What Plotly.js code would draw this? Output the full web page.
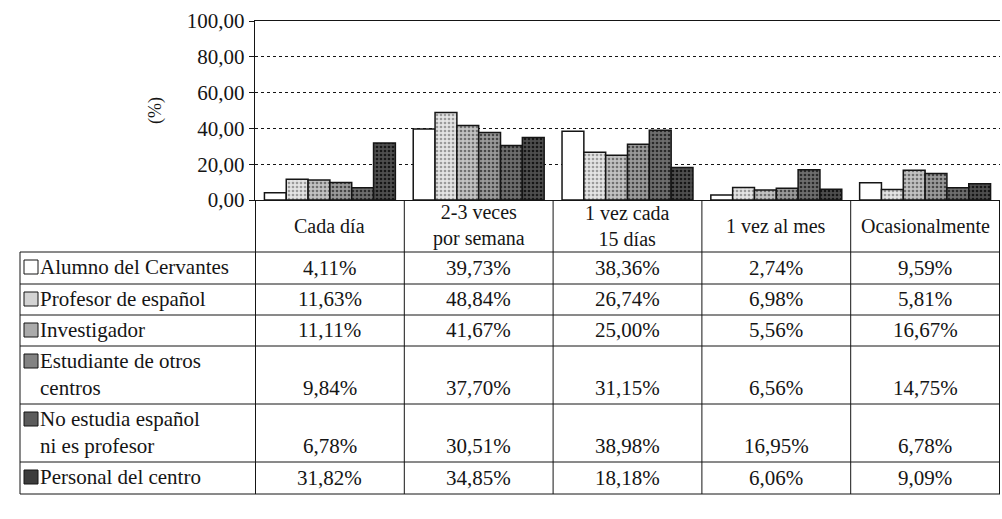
<!DOCTYPE html>
<html><head><meta charset="utf-8">
<script src="https://cdn.plot.ly/plotly-3.0.1.min.js"></script>
<style>body{margin:0;background:#fff}#chart{width:1002px;height:519px}</style>
</head><body><div id="chart"></div>
<script>
// ---- data ----
const categories = ['Cada día', '2-3 veces por semana', '1 vez cada 15 días', '1 vez al mes', 'Ocasionalmente'];
const headerLabels = ['Cada día', '2-3 veces<br>por semana', '1 vez cada<br>15 días', '1 vez al mes', 'Ocasionalmente'];
const seriesNames = ['Alumno del Cervantes', 'Profesor de español', 'Investigador', 'Estudiante de otros centros', 'No estudia español ni es profesor', 'Personal del centro'];
const seriesLabels = ['Alumno del Cervantes', 'Profesor de español', 'Investigador', 'Estudiante de otros<br>centros', 'No estudia español<br>ni es profesor', 'Personal del centro'];
const alumno = [4.11, 39.73, 38.36, 2.74, 9.59];
const profesor = [11.63, 48.84, 26.74, 6.98, 5.81];
const investigador = [11.11, 41.67, 25.00, 5.56, 16.67];
const estudiante = [9.84, 37.70, 31.15, 6.56, 14.75];
const noEstudia = [6.78, 30.51, 38.98, 16.95, 6.78];
const personal = [31.82, 34.85, 18.18, 6.06, 9.09];
const yTicks = [0, 20, 40, 60, 80, 100];

// ---- styles / layout constants ----
const series = [alumno, profesor, investigador, estudiante, noEstudia, personal];
const bgColors = ['#ffffff', '#e4e4e4', '#c2c2c2', '#9a9a9a', '#6e6e6e', '#4e4e4e'];
const fgColors = ['#ffffff', '#9a9a9a', '#707070', '#454545', '#2a2a2a', '#161616'];
const swatch = ['#ffffff', '#d4d4d4', '#ababab', '#838383', '#5c5c5c', '#3c3c3c'];
const FONT = 'Liberation Serif, Times New Roman, serif';
const INK = '#151515';
const W = 1002, H = 519;
const PLOT_L = 255, PLOT_R = 1000, PLOT_T = 21, PLOT_B = 200;
const TABLE_L = 20, HEADER_B = 252;
const ROW_H = [32, 31, 31, 58, 58, 32];
const FS = 21, HFS = 20;

const px = x => x / W;          // pixel -> paper x
const py = y => 1 - y / H;      // pixel -> paper y
const fmt = v => v.toFixed(2).replace('.', ',') + '%';

const traces = series.map((vals, i) => ({
  type: 'bar',
  name: seriesNames[i],
  x: categories,
  y: vals,
  marker: {
    color: bgColors[i],
    line: {color: INK, width: 1.5},
    pattern: i === 0 ? {shape: ''} : {shape: '.', fgcolor: fgColors[i], bgcolor: bgColors[i], size: 4, solidity: 0.35}
  },
  hoverinfo: 'x+y+name'
}));

// ---- data table (drawn with shapes + annotations) ----
const rowTop = [];
let acc = HEADER_B;
ROW_H.forEach(h => { rowTop.push(acc); acc += h; });
const TABLE_B = acc;

const shapes = [];
const line = {color: INK, width: 1};
// horizontal rules
[HEADER_B].concat(rowTop.map((t, i) => t + ROW_H[i])).forEach(y => shapes.push({
  type: 'line', xref: 'paper', yref: 'paper', x0: px(TABLE_L), x1: px(PLOT_R), y0: py(y), y1: py(y), line
}));
// legend column left border
shapes.push({type: 'line', xref: 'paper', yref: 'paper', x0: px(TABLE_L), x1: px(TABLE_L), y0: py(HEADER_B), y1: py(TABLE_B), line});
// column borders on the category scale
for (let i = 0; i <= categories.length; i++) {
  shapes.push({type: 'line', xref: 'x', yref: 'paper', x0: i - 0.5, x1: i - 0.5, y0: py(PLOT_B), y1: py(TABLE_B), line});
}
// legend swatches
seriesNames.forEach((n, i) => shapes.push({
  type: 'rect', xref: 'paper', yref: 'paper',
  x0: px(24), x1: px(38), y0: py(rowTop[i] + 8), y1: py(rowTop[i] + 22),
  fillcolor: swatch[i], line: {color: INK, width: 1}
}));

const annotations = [];
const txt = (o, size) => Object.assign({showarrow: false, font: {family: FONT, size: size || FS, color: INK}}, o);
// header
headerLabels.forEach((lab, ci) => annotations.push(txt({
  xref: 'x', yref: 'paper', x: categories[ci], y: py((PLOT_B + HEADER_B) / 2),
  xanchor: 'center', yanchor: 'middle', align: 'center', text: lab
}, HFS)));
// legend labels
seriesLabels.forEach((lab, i) => annotations.push(txt({
  xref: 'paper', yref: 'paper', x: px(38), y: py(rowTop[i] + 1),
  xanchor: 'left', yanchor: 'top', align: 'left', text: lab
})));
// values
series.forEach((vals, si) => vals.forEach((v, ci) => annotations.push(txt({
  xref: 'x', yref: 'paper', x: categories[ci], y: py(rowTop[si] + ROW_H[si] - 2),
  xanchor: 'center', yanchor: 'bottom', text: fmt(v)
}))));

const layout = {
  width: W, height: H,
  margin: {l: 0, r: 0, t: 0, b: 0},
  paper_bgcolor: 'white', plot_bgcolor: 'white',
  separators: ',.',
  showlegend: false,
  barmode: 'group',
  bargap: 0.12,
  bargroupgap: 0,
  font: {family: FONT, size: FS, color: INK},
  xaxis: {
    domain: [px(PLOT_L), px(PLOT_R)],
    showticklabels: false,
    ticks: '',
    showgrid: false,
    showline: true, mirror: true, linecolor: INK, linewidth: 1.2,
    zeroline: false
  },
  yaxis: {
    domain: [py(PLOT_B), py(PLOT_T)],
    range: [0, 100],
    tickvals: yTicks,
    tickformat: '.2f',
    ticks: 'outside', ticklen: 5, tickcolor: INK,
    showline: true, linecolor: INK, linewidth: 1.2,
    showgrid: true, gridcolor: INK, griddash: 'dot', gridwidth: 1,
    zeroline: false,
    tickfont: {family: FONT, size: FS, color: INK},
    title: {text: '(%)', font: {family: FONT, size: 18, color: INK}, standoff: 20}
  },
  shapes, annotations
};

Plotly.newPlot('chart', traces, layout, {displayModeBar: false, staticPlot: true});
</script>
</body></html>
